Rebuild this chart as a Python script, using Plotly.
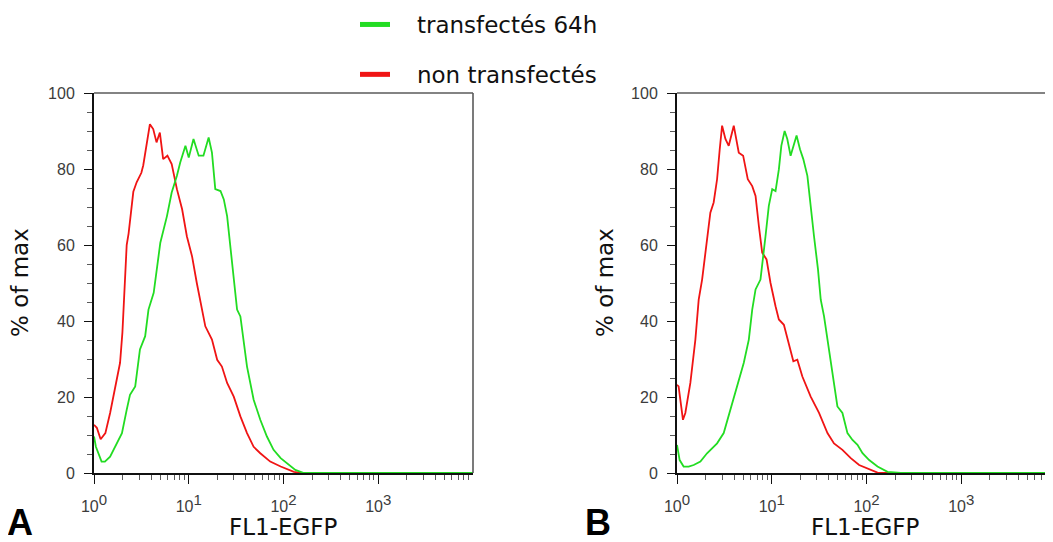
"""
Flow cytometry overlay - FL1-EGFP histograms, transfected vs non transfected
"""
import plotly.graph_objects as go
import numpy as np

PALETTE = {
    'red': '#f01414',
    'green': '#22dc22',
    'axis': '#111111',
    'frame': '#5a5a5a',
    'tick_text': '#3c3c3c',
    'text': '#111111',
}

# FL1 positions as log10 decades (0 -> 10^0)
A_RED_DEC = [0.0, 0.03, 0.07, 0.12, 0.17, 0.22, 0.275, 0.30, 0.32, 0.345,
             0.365, 0.38, 0.415, 0.45, 0.50, 0.52, 0.555, 0.59, 0.625, 0.66,
             0.695, 0.73, 0.775, 0.82, 0.875, 0.93, 0.98, 1.035, 1.085, 1.14,
             1.175, 1.245, 1.30, 1.35, 1.405, 1.475, 1.545, 1.615, 1.685, 1.755,
             1.86, 1.97, 2.11, 2.18, 4.0]
A_RED_PCT = [12.7, 11.9, 8.9, 10.5, 15.8, 21.9, 29, 37, 47, 60,
             63, 66, 74, 76.5, 79, 81, 87, 91.8, 90.5, 87,
             89.6, 82.6, 83.5, 81.3, 74.7, 69.4, 62.3, 57, 50, 43,
             38.6, 35.1, 29.8, 28, 23.7, 20.1, 14.9, 10.5, 6.9, 5.2,
             3, 1.7, 0.3, 0, 0]

A_GREEN_DEC = [0.0, 0.02, 0.08, 0.115, 0.17, 0.24, 0.295, 0.345, 0.38, 0.435,
               0.485, 0.54, 0.575, 0.63, 0.70, 0.77, 0.82, 0.875, 0.91, 0.965,
               1.0, 1.05, 1.105, 1.155, 1.21, 1.245, 1.28, 1.335, 1.37, 1.405,
               1.44, 1.475, 1.51, 1.545, 1.615, 1.685, 1.755, 1.825, 1.895, 1.97,
               2.04, 2.125, 2.215, 4.0]
A_GREEN_PCT = [9.6, 6.9, 3, 3, 4.3, 7.8, 10.5, 16.6, 20.6, 22.8,
               32.5, 36, 43, 47.4, 60.6, 67.6, 73.8, 78.2, 81.7, 86.1,
               83, 87.9, 83.5, 83.5, 88.3, 84.3, 74.7, 74.2, 72, 67.6,
               58.8, 50, 43, 41.2, 28, 19.3, 14, 9.6, 6.1, 3.9,
               2.6, 0.8, 0, 0]

B_RED_DEC = [0.0, 0.017, 0.035, 0.063, 0.088, 0.141, 0.194, 0.229, 0.265, 0.317,
             0.352, 0.387, 0.423, 0.451, 0.476, 0.511, 0.546, 0.599, 0.652, 0.698,
             0.747, 0.794, 0.829, 0.864, 0.899, 0.945, 0.987, 1.04, 1.075, 1.128,
             1.181, 1.228, 1.27, 1.323, 1.411, 1.499, 1.588, 1.657, 1.746, 1.834,
             1.922, 2.011, 2.116, 4.0]
B_RED_PCT = [23.2, 22.8, 19.3, 14, 15.8, 23.7, 35.1, 45.6, 50.9, 60.6,
             68.5, 71.2, 77.3, 85.2, 91.4, 87.9, 86.1, 91.4, 84.3, 83.5,
             77.3, 75.5, 72.9, 65, 58, 56.2, 50, 43.9, 40.4, 39,
             34.2, 29.4, 29.8, 25.4, 20.1, 15.8, 10.5, 7.8, 6.1, 3.9,
             2.1, 1.2, 0.1, 0]

B_GREEN_DEC = [0.0, 0.028, 0.07, 0.123, 0.176, 0.247, 0.317, 0.423, 0.493, 0.564,
               0.635, 0.705, 0.758, 0.794, 0.829, 0.881, 0.934, 0.969, 1.005, 1.04,
               1.075, 1.101, 1.136, 1.164, 1.199, 1.234, 1.262, 1.298, 1.333, 1.376,
               1.411, 1.446, 1.488, 1.517, 1.552, 1.605, 1.657, 1.693, 1.746, 1.799,
               1.852, 1.905, 1.958, 2.028, 2.116, 2.222, 2.362, 4.0]
B_GREEN_PCT = [7.4, 3.4, 1.7, 1.7, 2.1, 3, 5.2, 7.8, 10.5, 16.6,
               22.8, 29, 35.1, 43, 48.3, 50.9, 62.3, 70.3, 74.7, 74.2,
               79.9, 86.1, 90, 87.9, 83.5, 86.1, 88.8, 85.2, 82.6, 78.2,
               69.4, 62.3, 53.6, 45.6, 41.2, 32.5, 22.8, 17.5, 15.8, 10.5,
               8.7, 7.4, 5.2, 3.4, 1.7, 0.3, 0, 0]

X_TICK_VALS = [1, 10, 100, 1000]
X_TICK_EXP = ['0', '1', '2', '3']
Y_TICK_VALS = [0, 20, 40, 60, 80, 100]

LEGEND_NAMES = ['transfectés 64h', 'non transfectés']
PANEL_LABELS = ['A', 'B']
X_TITLE = 'FL1-EGFP'
Y_TITLE = '% of max'

# page is 1053x542, the default body margin puts the figure at (8, 8)
PAGE_OFF = 8
FW, FH = 1053 - PAGE_OFF, 542 - PAGE_OFF
TEXT_FONT = 'DejaVu Sans, Verdana, sans-serif'
TICK_FONT = 'Liberation Sans, Arial, sans-serif'
DECADE_PX = 94.75


def fx(p):
    """page pixel -> paper x fraction"""
    return (p - PAGE_OFF) / FW


def fy(p):
    """page pixel -> paper y fraction (from bottom)"""
    return (FH - (p - PAGE_OFF)) / FH


minor_x = [m * 10 ** e for e in range(4) for m in range(2, 10)]
x_tick_text = [f'10<sup><span style="font-size:15px">{e}</span></sup>' for e in X_TICK_EXP]


def x_axis(domain, rng, anchor):
    return dict(
        type='log', domain=domain, range=rng, anchor=anchor,
        showline=True, linecolor=PALETTE['axis'], linewidth=2,
        showgrid=False, zeroline=False, automargin=False,
        ticks='outside', ticklen=9, tickwidth=1.3, tickcolor=PALETTE['axis'],
        tickvals=X_TICK_VALS, ticktext=x_tick_text,
        tickfont=dict(family=TICK_FONT, size=16, color=PALETTE['tick_text']),
        ticklabelstandoff=9,
        minor=dict(tickvals=minor_x, ticks='outside', ticklen=5,
                   tickwidth=1.2, tickcolor=PALETTE['frame'], showgrid=False),
        fixedrange=True,
    )


def y_axis(anchor):
    return dict(
        domain=[fy(473), fy(93)], range=[0, 100], anchor=anchor,
        showline=True, linecolor=PALETTE['axis'], linewidth=2,
        showgrid=False, zeroline=False, automargin=False,
        ticks='outside', ticklen=8, tickwidth=1.3, tickcolor=PALETTE['axis'],
        tickvals=Y_TICK_VALS,
        tickfont=dict(family=TICK_FONT, size=16, color=PALETTE['tick_text']),
        ticklabelstandoff=6,
        minor=dict(dtick=5, ticks='outside', ticklen=5, tickwidth=1.2,
                   tickcolor=PALETTE['frame'], showgrid=False),
        fixedrange=True,
    )


fig = go.Figure()

panels = [
    ('x', 'y', A_GREEN_DEC, A_GREEN_PCT, A_RED_DEC, A_RED_PCT),
    ('x2', 'y2', B_GREEN_DEC, B_GREEN_PCT, B_RED_DEC, B_RED_PCT),
]
for xa, ya, gdec, gpct, rdec, rpct in panels:
    fig.add_trace(go.Scatter(
        x=10 ** np.array(rdec), y=rpct, xaxis=xa, yaxis=ya, mode='lines',
        line=dict(color=PALETTE['red'], width=1.8), showlegend=False,
    ))
    fig.add_trace(go.Scatter(
        x=10 ** np.array(gdec), y=gpct, xaxis=xa, yaxis=ya, mode='lines',
        line=dict(color=PALETTE['green'], width=1.8), showlegend=False,
    ))

# legend swatches (thick short lines)
for name, color, grp in [(LEGEND_NAMES[0], PALETTE['green'], 'g'),
                         (LEGEND_NAMES[1], PALETTE['red'], 'r')]:
    fig.add_trace(go.Scatter(
        x=[None], y=[None], mode='lines', name='\u00a0\u00a0\u00a0' + name,
        line=dict(color=color, width=5), legendgroup=grp, showlegend=True,
    ))

# thin grey frame on top / right of each panel
for xa, ya, sides in [('x', 'y', ('top', 'right')), ('x2', 'y2', ('top',))]:
    if 'top' in sides:
        fig.add_shape(type='line', xref=f'{xa} domain', yref=f'{ya} domain',
                      x0=0, x1=1, y0=1, y1=1,
                      line=dict(color=PALETTE['frame'], width=1.6))
    if 'right' in sides:
        fig.add_shape(type='line', xref=f'{xa} domain', yref=f'{ya} domain',
                      x0=1, x1=1, y0=0, y1=1,
                      line=dict(color=PALETTE['frame'], width=1.6))

for xa, ya, label, lx, tx in [('x', 'y', PANEL_LABELS[0], 20, 20),
                              ('x2', 'y2', PANEL_LABELS[1], 598, 605)]:
    fig.add_annotation(text=X_TITLE, xref=f'{xa} domain', x=0.5, yref='paper',
                       y=fy(527), showarrow=False, xanchor='center', yanchor='middle',
                       font=dict(family=TEXT_FONT, size=23, color=PALETTE['text']))
    fig.add_annotation(text=Y_TITLE, xref='paper', x=fx(tx),
                       yref=f'{ya} domain', y=0.5, textangle=-90, showarrow=False,
                       xanchor='center', yanchor='middle',
                       font=dict(family=TEXT_FONT, size=23, color=PALETTE['text']))
    fig.add_annotation(text=f'<b>{label}</b>', xref='paper', x=fx(lx),
                       yref='paper', y=fy(522), showarrow=False,
                       xanchor='center', yanchor='middle',
                       font=dict(family='Liberation Sans, Arial, sans-serif', size=36,
                                 color='#000000'))

fig.update_layout(
    width=FW, height=FH,
    margin=dict(l=0, r=0, t=0, b=0, pad=0, autoexpand=False),
    paper_bgcolor='white', plot_bgcolor='white',
    xaxis=x_axis([fx(94), fx(473)], [0, 4], 'y'),
    yaxis=y_axis('x'),
    xaxis2=x_axis([fx(677), 1.0], [0, (1053 - 677) / DECADE_PX], 'y2'),
    yaxis2=y_axis('x2'),
    showlegend=True,
    legend=dict(x=fx(355), xanchor='left', y=1 + 5 / FH, yanchor='top',
                traceorder='grouped', tracegroupgap=17,
                bgcolor='rgba(0,0,0,0)', borderwidth=0,
                font=dict(family=TEXT_FONT, size=23, color=PALETTE['text']),
                itemclick=False, itemdoubleclick=False),
)

fig.write_html("out.html")
